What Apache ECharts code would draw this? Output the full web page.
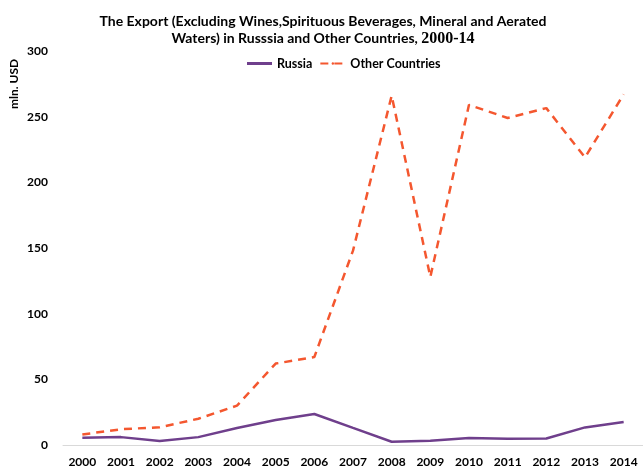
<!DOCTYPE html>
<html>
<head>
<meta charset="utf-8">
<script src="https://cdn.jsdelivr.net/npm/echarts@6/dist/echarts.min.js"></script>
<style>
  html, body { margin: 0; padding: 0; background: #fff; }
  #chart { width: 643px; height: 470px; }
</style>
</head>
<body>
<div id="chart"></div>
<script>
// Export values, mln. USD
const years = ['2000','2001','2002','2003','2004','2005','2006','2007','2008','2009','2010','2011','2012','2013','2014'];
const russia = [5.6, 6, 3, 6, 13, 19, 23.6, 13, 2.5, 3.3, 5.3, 4.7, 4.9, 13.4, 17.5];
const otherCountries = [8, 12, 13.5, 20, 30, 62, 67, 148, 266, 128, 259, 249, 256.5, 219, 267];
const yTicks = [0, 50, 100, 150, 200, 250, 300];

const FONT = 'Lato, "Open Sans", sans-serif';
const chart = echarts.init(document.getElementById('chart'));

chart.setOption({
  animation: false,
  title: {
    text: 'The Export (Excluding Wines,Spirituous Beverages, Mineral and Aerated\nWaters) in Russsia and Other Countries, {y|2000-14}',
    left: 318,
    textAlign: 'center',
    top: 8,
    textStyle: {
      fontFamily: FONT,
      fontSize: 14,
      fontWeight: 'bold',
      color: '#000',
      lineHeight: 17,
      rich: {
        y: { fontFamily: '"Liberation Serif", serif', fontSize: 16, fontWeight: 'bold', color: '#000' }
      }
    }
  },
  legend: {
    top: 52,
    left: 242,
    itemWidth: 25,
    itemHeight: 3,
    itemGap: 7,
    textStyle: { fontFamily: FONT, fontSize: 12.5, fontWeight: 'bold', color: '#000' },
    data: [
      { name: 'Russia', icon: 'rect' },
      { name: 'Other Countries' }
    ]
  },
  grid: { left: 63, top: 51, width: 583, height: 394, containLabel: false },
  xAxis: {
    type: 'category',
    data: years,
    boundaryGap: true,
    axisLine: { show: true, lineStyle: { color: '#d9d9d9', width: 1 } },
    axisTick: { show: false },
    axisLabel: { fontFamily: FONT, fontSize: 12, fontWeight: 'bold', color: '#000', margin: 11 }
  },
  yAxis: {
    type: 'value',
    min: yTicks[0],
    max: yTicks[yTicks.length - 1],
    interval: 50,
    axisLine: { show: false },
    axisTick: { show: false },
    splitLine: { show: false },
    axisLabel: { fontFamily: FONT, fontSize: 12, fontWeight: 'bold', color: '#000', margin: 15 }
  },
  graphic: [{
    type: 'text',
    x: 14,
    y: 84,
    rotation: Math.PI / 2,
    style: {
      text: 'mln. USD',
      font: 'bold 12px ' + FONT,
      fill: '#000',
      align: 'center',
      verticalAlign: 'middle'
    }
  }],
  series: [
    {
      name: 'Russia',
      type: 'line',
      data: russia,
      symbol: 'none',
      lineStyle: { color: '#6f3f8c', width: 2.5 },
      itemStyle: { color: '#6f3f8c' }
    },
    {
      name: 'Other Countries',
      type: 'line',
      data: otherCountries,
      symbol: 'none',
      lineStyle: { color: '#f4572f', width: 2.5, type: [8, 6] },
      itemStyle: { color: '#f4572f' }
    }
  ]
});
</script>
</body>
</html>
